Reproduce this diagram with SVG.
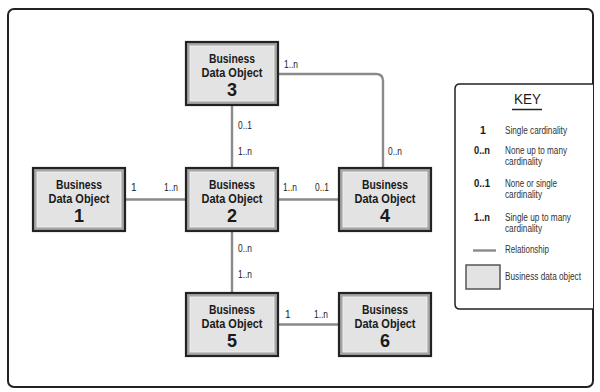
<svg xmlns="http://www.w3.org/2000/svg" width="600" height="392" viewBox="0 0 600 392">
<style>
.frame{fill:#fff;stroke:#222;stroke-width:2}
.key{fill:#fff;stroke:#222;stroke-width:1.5}
.nb{fill:#a6a6a6;stroke:#222;stroke-width:2.2}
.ni{fill:#e3e3e3;stroke:#f2f2f2;stroke-width:0.8}
.c{fill:none;stroke:#8a8a8a;stroke-width:2.4}
text{font-family:"Liberation Sans","DejaVu Sans Condensed",Arial,sans-serif;fill:#1a1a1a}
.t{font-size:12.5px;font-weight:bold;text-anchor:middle}
.n{font-size:18px;font-weight:bold;text-anchor:middle}
.l{font-size:10px}
.ks{font-size:10.5px;font-weight:bold;text-anchor:middle}
.kt{font-size:10px;fill:#333}
</style>
<defs>
<g id="box">
<rect class="nb" x="0" y="0" width="92" height="63"/>
<rect class="ni" x="4" y="4" width="84" height="55"/>
<text class="t" x="46" y="21" textLength="46" lengthAdjust="spacingAndGlyphs">Business</text>
<text class="t" x="46" y="35" textLength="61" lengthAdjust="spacingAndGlyphs">Data Object</text>
</g>
</defs>
<rect class="frame" x="8" y="9" width="585" height="378" rx="6"/>
<g id="connectors">
<path class="c" d="M232 105V168"/>
<path class="c" d="M125 199.5H186"/>
<path class="c" d="M278 199.5H339"/>
<path class="c" d="M232 231V293"/>
<path class="c" d="M278 324.5H339"/>
<path class="c" d="M278 74H376Q383 74 383 81V168"/>
<text class="l" x="284" y="68" textLength="14" lengthAdjust="spacingAndGlyphs">1..n</text>
<text class="l" x="238" y="129" textLength="14" lengthAdjust="spacingAndGlyphs">0..1</text>
<text class="l" x="238" y="155" textLength="14" lengthAdjust="spacingAndGlyphs">1..n</text>
<text class="l" x="131" y="191">1</text>
<text class="l" x="164" y="191" textLength="14" lengthAdjust="spacingAndGlyphs">1..n</text>
<text class="l" x="283" y="191" textLength="14" lengthAdjust="spacingAndGlyphs">1..n</text>
<text class="l" x="315" y="191" textLength="14" lengthAdjust="spacingAndGlyphs">0..1</text>
<text class="l" x="388" y="155" textLength="14" lengthAdjust="spacingAndGlyphs">0..n</text>
<text class="l" x="238" y="252" textLength="14" lengthAdjust="spacingAndGlyphs">0..n</text>
<text class="l" x="238" y="278" textLength="14" lengthAdjust="spacingAndGlyphs">1..n</text>
<text class="l" x="285" y="318">1</text>
<text class="l" x="314" y="318" textLength="14" lengthAdjust="spacingAndGlyphs">1..n</text>
</g>
<g id="node3" transform="translate(186,42)"><use href="#box"/><text class="n" x="46" y="54">3</text></g>
<g id="node1" transform="translate(33,168)"><use href="#box"/><text class="n" x="46" y="54">1</text></g>
<g id="node2" transform="translate(186,168)"><use href="#box"/><text class="n" x="46" y="54">2</text></g>
<g id="node4" transform="translate(339,168)"><use href="#box"/><text class="n" x="46" y="54">4</text></g>
<g id="node5" transform="translate(186,293)"><use href="#box"/><text class="n" x="46" y="54">5</text></g>
<g id="node6" transform="translate(339,293)"><use href="#box"/><text class="n" x="46" y="54">6</text></g>
<g id="key">
<path class="key" d="M593 84H460Q455 84 455 89V304Q455 309 460 309H593"/>
<text x="527.5" y="104" style="font-size:15px;text-anchor:middle" textLength="27" lengthAdjust="spacingAndGlyphs">KEY</text>
<line x1="512" y1="109.5" x2="542" y2="109.5" stroke="#222" stroke-width="1.5"/>
<text class="ks" x="483" y="134">1</text><text class="kt" x="505" y="134" textLength="62" lengthAdjust="spacingAndGlyphs">Single cardinality</text>
<text class="ks" x="482" y="154" textLength="16" lengthAdjust="spacingAndGlyphs">0..n</text><text class="kt" x="505" y="154" textLength="62" lengthAdjust="spacingAndGlyphs">None up to many</text><text class="kt" x="505" y="164.5" textLength="37" lengthAdjust="spacingAndGlyphs">cardinality</text>
<text class="ks" x="482" y="187" textLength="16" lengthAdjust="spacingAndGlyphs">0..1</text><text class="kt" x="505" y="187" textLength="52" lengthAdjust="spacingAndGlyphs">None or single</text><text class="kt" x="505" y="197.5" textLength="37" lengthAdjust="spacingAndGlyphs">cardinality</text>
<text class="ks" x="482" y="221" textLength="16" lengthAdjust="spacingAndGlyphs">1..n</text><text class="kt" x="505" y="221" textLength="66" lengthAdjust="spacingAndGlyphs">Single up to many</text><text class="kt" x="505" y="231.5" textLength="37" lengthAdjust="spacingAndGlyphs">cardinality</text>
<line x1="473" y1="250.5" x2="496" y2="250.5" stroke="#8a8a8a" stroke-width="2.4"/><text class="kt" x="505" y="253" textLength="44" lengthAdjust="spacingAndGlyphs">Relationship</text>
<rect x="466" y="265" width="34" height="24" fill="#e3e3e3" stroke="#555" stroke-width="1.5"/><text class="kt" x="505" y="280" textLength="76" lengthAdjust="spacingAndGlyphs">Business data object</text>
</g>
</svg>
